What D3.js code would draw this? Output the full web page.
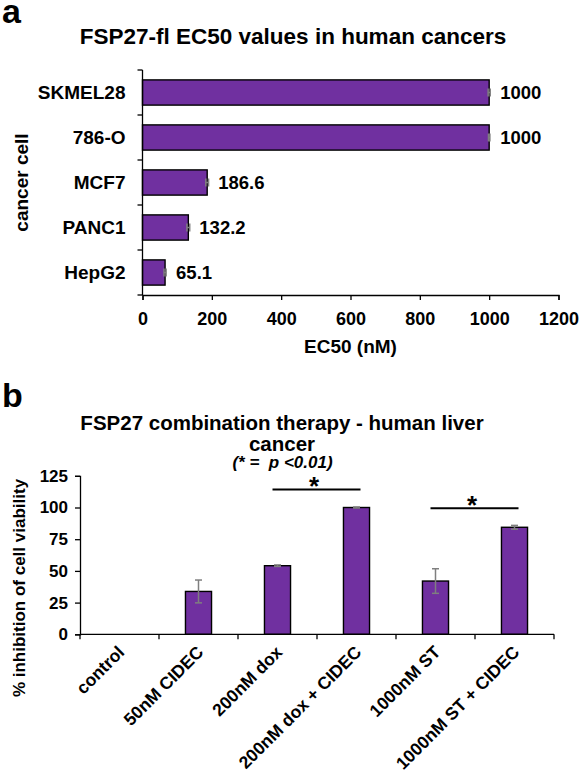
<!DOCTYPE html>
<html>
<head>
<meta charset="utf-8">
<script src="https://cdn.jsdelivr.net/npm/d3@7"></script>
<style>
  body { margin: 0; background: #fff; }
  svg { display: block; font-family: "Liberation Sans", Arial, sans-serif; font-weight: bold; }
</style>
</head>
<body>
<svg id="fig" width="580" height="772"></svg>
<script>
// panel a data
const cellLines = ['SKMEL28', '786-O', 'MCF7', 'PANC1', 'HepG2'];
const ec50 = [1000, 1000, 186.6, 132.2, 65.1];
const ec50Err = [3, 2, 4, 4, 3];
const ec50Ticks = [0, 200, 400, 600, 800, 1000, 1200];

// panel b data
const treatments = ['control', '50nM CIDEC', '200nM dox', '200nM dox + CIDEC', '1000nM ST', '1000nM ST + CIDEC'];
const inhibition = [0, 33.8, 54.1, 100, 42, 84.4];
const inhibitionErr = [0, 9, 0.6, 0.4, 9.7, 1.5];
const inhibitionTicks = [0, 25, 50, 75, 100, 125];
const sigFrom = ['200nM dox', '1000nM ST'];
const sigTo = ['200nM dox + CIDEC', '1000nM ST + CIDEC'];
const sigLevel = [114.2, 99.4];

const PURPLE = '#7030a0';
const ERRGRAY = '#7f7f7f';
const svg = d3.select('#fig');

// ---------- panel a ----------
const a = svg.append('g');
a.append('text').text('a').attr('x', 2).attr('y', 23).attr('font-size', 34);
a.append('text').text('FSP27-fl EC50 values in human cancers')
  .attr('x', 293).attr('y', 43.5).attr('text-anchor', 'middle').attr('font-size', 22.5);

const xA = d3.scaleLinear().domain([0, 1200]).range([142.5, 558.5]);
const yA = d3.scaleBand().domain(cellLines).range([70, 295]).paddingInner(0.44).paddingOuter(0.22);

// bars
a.selectAll('rect.bar').data(cellLines).join('rect')
  .attr('class', 'bar')
  .attr('x', xA(0))
  .attr('y', d => yA(d))
  .attr('width', (d, i) => xA(ec50[i]) - xA(0))
  .attr('height', yA.bandwidth())
  .attr('fill', PURPLE).attr('stroke', '#000').attr('stroke-width', 1.4);

// error bars (tiny)
a.selectAll('g.err').data(cellLines).join('g').attr('class', 'err')
  .each(function(d, i) {
    const g = d3.select(this);
    const cy = yA(d) + yA.bandwidth() / 2;
    const x1 = xA(ec50[i] - ec50Err[i]), x2 = xA(ec50[i] + ec50Err[i]);
    g.append('line').attr('x1', x1).attr('x2', x2).attr('y1', cy).attr('y2', cy)
      .attr('stroke', ERRGRAY).attr('stroke-width', 1.5);
    [x1, x2].forEach(x => g.append('line').attr('x1', x).attr('x2', x).attr('y1', cy - 4).attr('y2', cy + 4)
      .attr('stroke', ERRGRAY).attr('stroke-width', 1.5));
  });

// value labels
a.selectAll('text.val').data(cellLines).join('text')
  .attr('class', 'val')
  .attr('x', (d, i) => xA(ec50[i]) + 11)
  .attr('y', d => yA(d) + yA.bandwidth() / 2)
  .attr('dy', '0.35em')
  .attr('font-size', 18.5)
  .text((d, i) => ec50[i]);

// x axis
const axA = a.append('g').attr('transform', 'translate(0,295)')
  .call(d3.axisBottom(xA).tickValues(ec50Ticks).tickSize(5).tickPadding(12).tickFormat(d3.format('d')));
axA.selectAll('text').attr('font-size', 18).attr('fill', '#000')
  .attr('font-family', '"Liberation Sans", Arial, sans-serif').attr('font-weight', 'bold');
axA.selectAll('line,path').attr('stroke', '#000').attr('stroke-width', 1.3);

// y axis (labels at band centres, ticks at band edges)
const ayA = a.append('g').attr('transform', `translate(${xA(0)},0)`)
  .call(d3.axisLeft(yA).tickSize(0).tickPadding(17));
ayA.select('path').remove();
ayA.selectAll('text').attr('font-size', 19).attr('fill', '#000')
  .attr('font-family', '"Liberation Sans", Arial, sans-serif').attr('font-weight', 'bold');
const edgesA = cellLines.map(d => yA(d) - yA.step() * yA.paddingInner() / 2).concat([yA.range()[1]]);
a.append('line').attr('x1', xA(0)).attr('x2', xA(0)).attr('y1', edgesA[0]).attr('y2', 295)
  .attr('stroke', '#000').attr('stroke-width', 1.3);
a.selectAll('line.edge').data(edgesA).join('line').attr('class', 'edge')
  .attr('x1', xA(0) - 5).attr('x2', xA(0)).attr('y1', d => d).attr('y2', d => d)
  .attr('stroke', '#000').attr('stroke-width', 1.3);

a.append('text').text('cancer cell').attr('font-size', 19).attr('text-anchor', 'middle')
  .attr('transform', 'translate(28,182.5) rotate(-90)');
a.append('text').text('EC50 (nM)').attr('font-size', 19).attr('text-anchor', 'middle')
  .attr('x', (xA.range()[0] + xA.range()[1]) / 2).attr('y', 352.5);

// ---------- panel b ----------
const b = svg.append('g');
b.append('text').text('b').attr('x', 2).attr('y', 407).attr('font-size', 34);
b.append('text').text('FSP27 combination therapy - human liver')
  .attr('x', 282).attr('y', 430).attr('text-anchor', 'middle').attr('font-size', 20.5);
b.append('text').text('cancer')
  .attr('x', 282).attr('y', 450.5).attr('text-anchor', 'middle').attr('font-size', 20.5);
b.append('text').text('(* =  p <0.01)').style('white-space', 'pre')
  .attr('x', 282.5).attr('y', 468).attr('text-anchor', 'middle').attr('font-size', 17)
  .attr('font-style', 'italic');

const xB = d3.scaleBand().domain(treatments).range([80, 554]).paddingInner(0.67).paddingOuter(0.335);
const yB = d3.scaleLinear().domain([0, 125]).range([634.3, 475.8]);

b.selectAll('rect.bar').data(treatments).join('rect')
  .attr('class', 'bar')
  .attr('x', d => xB(d))
  .attr('y', (d, i) => yB(inhibition[i]))
  .attr('width', xB.bandwidth())
  .attr('height', (d, i) => yB(0) - yB(inhibition[i]))
  .attr('fill', PURPLE).attr('stroke', '#000').attr('stroke-width', 1.4)
  .attr('display', (d, i) => inhibition[i] > 0 ? null : 'none');

b.selectAll('g.err').data(treatments.filter((d, i) => inhibition[i] > 0)).join('g').attr('class', 'err')
  .each(function(d) {
    const i = treatments.indexOf(d);
    const g = d3.select(this);
    const cx = xB(d) + xB.bandwidth() / 2;
    const y1 = yB(inhibition[i] + inhibitionErr[i]), y2 = yB(inhibition[i] - inhibitionErr[i]);
    g.append('line').attr('x1', cx).attr('x2', cx).attr('y1', y1).attr('y2', y2)
      .attr('stroke', ERRGRAY).attr('stroke-width', 1.5);
    [y1, y2].forEach(y => g.append('line').attr('x1', cx - 3.5).attr('x2', cx + 3.5).attr('y1', y).attr('y2', y)
      .attr('stroke', ERRGRAY).attr('stroke-width', 1.5));
  });

// y axis
const ayB = b.append('g').attr('transform', 'translate(80,0)')
  .call(d3.axisLeft(yB).tickValues(inhibitionTicks).tickSize(5).tickPadding(7));
ayB.selectAll('text').attr('font-size', 17).attr('fill', '#000')
  .attr('font-family', '"Liberation Sans", Arial, sans-serif').attr('font-weight', 'bold');
ayB.selectAll('line,path').attr('stroke', '#000').attr('stroke-width', 1.3);

// x axis: line, edge ticks, rotated labels
const edgesB = treatments.map(d => xB(d) - xB.step() * xB.paddingInner() / 2).concat([xB.range()[1]]);
b.append('line').attr('x1', 80).attr('x2', xB.range()[1]).attr('y1', yB(0)).attr('y2', yB(0))
  .attr('stroke', '#000').attr('stroke-width', 1.3);
b.selectAll('line.edge').data(edgesB).join('line').attr('class', 'edge')
  .attr('x1', d => d).attr('x2', d => d).attr('y1', yB(0)).attr('y2', yB(0) + 5)
  .attr('stroke', '#000').attr('stroke-width', 1.3);
b.selectAll('text.cat').data(treatments).join('text').attr('class', 'cat')
  .attr('text-anchor', 'end').attr('font-size', 17.5)
  .attr('transform', d => `translate(${xB(d) + xB.bandwidth() / 2 + 6},${yB(0) + 19}) rotate(-45)`)
  .text(d => d);

b.append('text').text('% inhibition of cell viability').attr('font-size', 17).attr('text-anchor', 'middle')
  .attr('transform', 'translate(25,588) rotate(-90)');

// significance bars
sigFrom.forEach((f, i) => {
  const c1 = xB(f) + xB.bandwidth() / 2, c2 = xB(sigTo[i]) + xB.bandwidth() / 2;
  const y = yB(sigLevel[i]);
  b.append('line').attr('x1', c1 - 5).attr('x2', c2 + 4).attr('y1', y).attr('y2', y)
    .attr('stroke', '#000').attr('stroke-width', 2);
  b.append('text').text('*').attr('x', (c1 + c2) / 2 - 3).attr('y', y + 5.5)
    .attr('text-anchor', 'middle').attr('font-size', 26);
});
</script>
</body>
</html>
